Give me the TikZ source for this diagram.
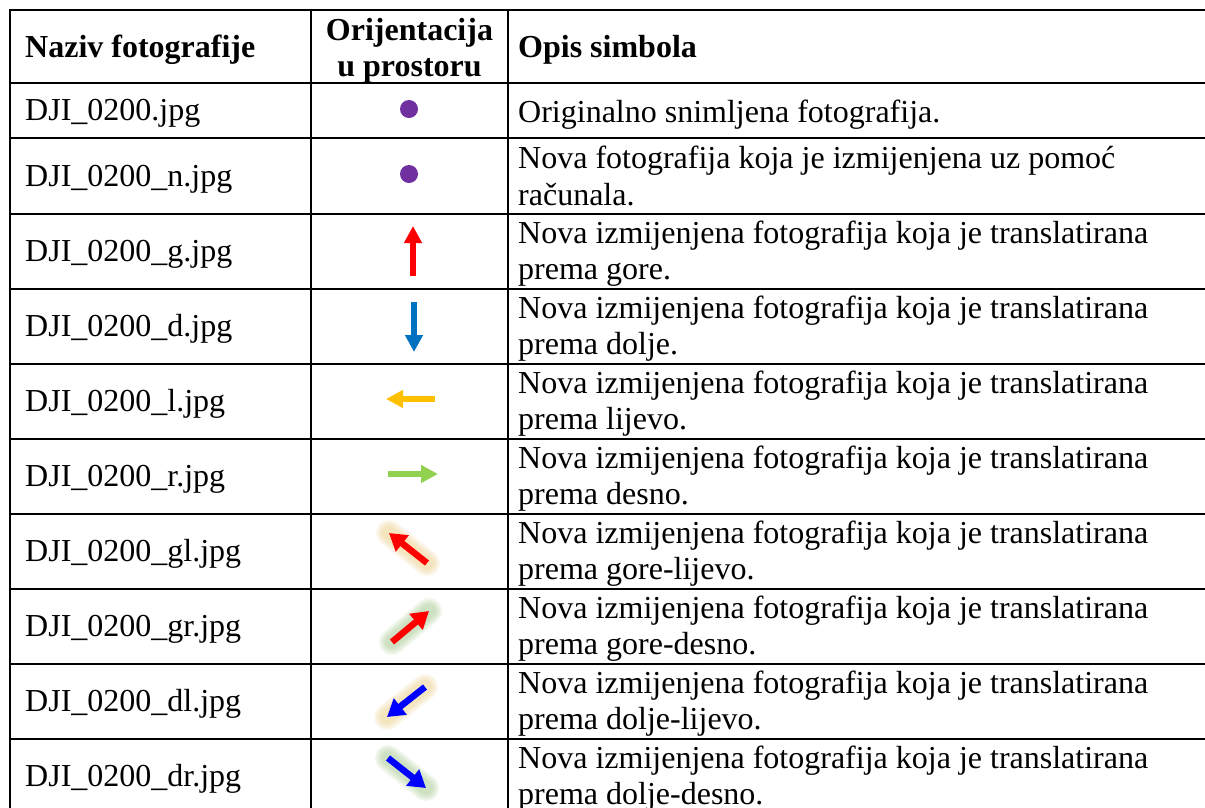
\documentclass[tikz,border=0pt]{standalone}
\usepackage{fontspec}
\setmainfont{Liberation Serif}
\usetikzlibrary{arrows.meta}
\definecolor{dotpurple}{HTML}{7030A0}
\definecolor{ared}{HTML}{FF0000}
\definecolor{ablue}{HTML}{0070C0}
\definecolor{ayellow}{HTML}{FFC000}
\definecolor{agreen}{HTML}{92D050}
\definecolor{pblue}{HTML}{0000FF}
\definecolor{glowor}{HTML}{EBC56E}
\definecolor{glowgr}{HTML}{93BE76}
\begin{document}
\begin{tikzpicture}[x=1pt,y=-1pt,
  gridline/.style={line width=2.6pt, line cap=rect},
  cell/.style={inner sep=0pt, font=\fontsize{32}{37}\selectfont},
  headcell/.style={inner sep=0pt, font=\fontsize{32}{37}\selectfont\bfseries},
  dotsym/.style={circle, fill=dotpurple, minimum size=18pt, inner sep=0pt},
  straightarrow/.style={line width=5.5pt, -{Triangle[width=17pt,length=17pt]}},
  diagarrow/.style={line width=6.5pt, -{Triangle[width=20pt,length=17pt]}},
  glowline/.style={line cap=round, opacity=0.13}]
\useasboundingbox (0,0) rectangle (1205,807);
\fill[white] (0,0) rectangle (1205,807);
\begin{scope}
\clip (0,0) rectangle (1205,807);
\foreach \y in {10,83,138,214,289,364,439,514,589,664,739}
  \draw[gridline] (10,\y) -- (1215,\y);
\foreach \x in {10,311,508}
  \draw[gridline] (\x,10) -- (\x,830);
\end{scope}
% header
\node[headcell, anchor=base west] (h1) at (25,57) {Naziv fotografije};
\node[headcell, anchor=base] (h2a) at (409.5,40) {Orijentacija};
\node[headcell, anchor=base] (h2b) at (409.5,76) {u prostoru};
\node[headcell, anchor=base west] (h3) at (518,57) {Opis simbola};
% row 1 and 2
\node[cell, anchor=base west] (n1) at (25,120) {DJI\_0200.jpg};
\node[dotsym] (s1) at (409,109) {};
\node[cell, anchor=base west] (d1) at (518,122) {Originalno snimljena fotografija.};
\node[cell, anchor=base west] (n2) at (25,186) {DJI\_0200\_n.jpg};
\node[dotsym] (s2) at (409,174) {};
\node[cell, anchor=base west] (d2a) at (518,168) {Nova fotografija koja je izmijenjena uz pomoć};
\node[cell, anchor=base west] (d2b) at (518,205) {računala.};
% translated rows
\foreach \t/\suf/\dir [count=\i from 3] in {214/g/gore,289/d/dolje,364/l/lijevo,439/r/desno,514/gl/gore-lijevo,589/gr/gore-desno,664/dl/dolje-lijevo,739/dr/dolje-desno}{
  \node[cell, anchor=base west] (n\i) at (25,\t+47) {DJI\_0200\_\suf.jpg};
  \node[cell, anchor=base west] (d\i a) at (518,\t+29) {Nova izmijenjena fotografija koja je translatirana};
  \node[cell, anchor=base west] (d\i b) at (518,\t+65) {prema \dir.};
}
% straight arrows
\coordinate (gT) at (413,276); \coordinate (gH) at (413,226);
\draw[straightarrow, ared] (gT) -- (gH);
\coordinate (dT) at (414,302); \coordinate (dH) at (414,352);
\draw[straightarrow, ablue] (dT) -- (dH);
\coordinate (lT) at (435,399); \coordinate (lH) at (386,399);
\draw[straightarrow, ayellow] (lT) -- (lH);
\coordinate (rT) at (388,474); \coordinate (rH) at (438,474);
\draw[straightarrow, agreen] (rT) -- (rH);
% diagonal arrows with glow
\coordinate (glT) at (427,563); \coordinate (glH) at (389,533);
\coordinate (grT) at (392,642); \coordinate (grH) at (429,611);
\coordinate (dlT) at (425,687); \coordinate (dlH) at (387,717);
\coordinate (drT) at (388,758); \coordinate (drH) at (426,788);
\foreach \a/\b/\g in {glT/glH/glowor,grT/grH/glowgr,dlT/dlH/glowor,drT/drH/glowgr}{
  \foreach \w in {26,22,18,14}
    \draw[glowline, \g, line width=\w pt] (\a) -- (\b);
}
\draw[diagarrow, ared] (glT) -- (glH);
\draw[diagarrow, ared] (grT) -- (grH);
\draw[diagarrow, pblue] (dlT) -- (dlH);
\draw[diagarrow, pblue] (drT) -- (drH);
\end{tikzpicture}
\end{document}
